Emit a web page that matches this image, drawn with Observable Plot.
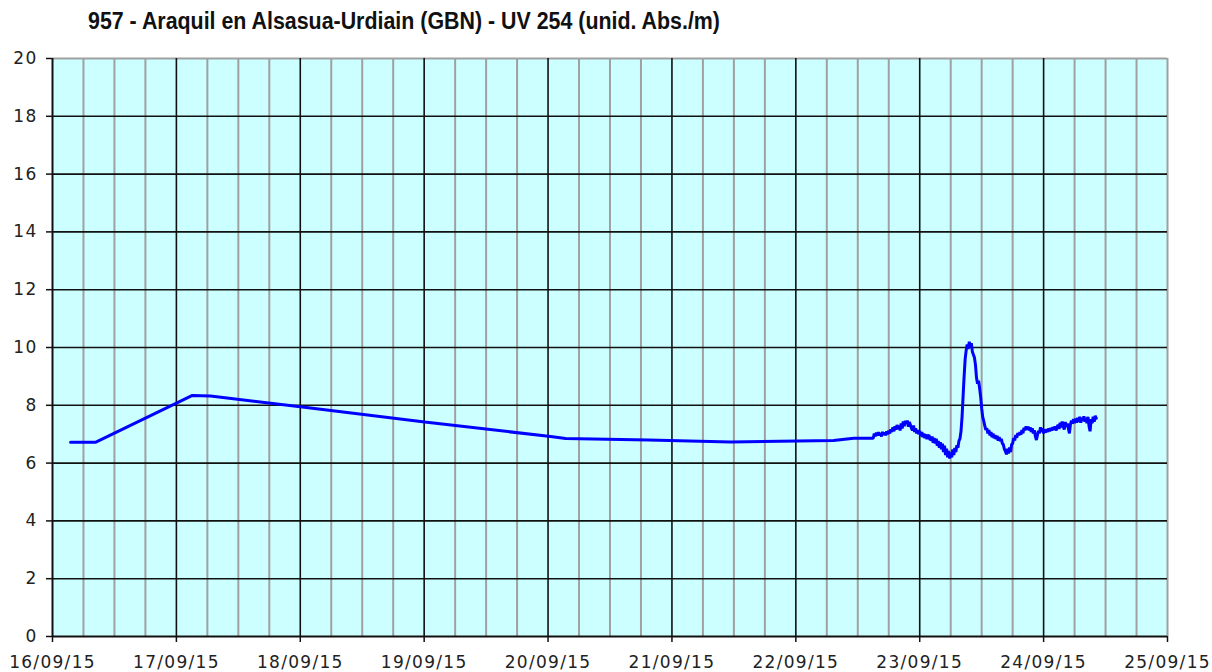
<!DOCTYPE html>
<html><head><meta charset="utf-8">
<script src="https://cdn.jsdelivr.net/npm/d3@7"></script>
<script src="https://cdn.jsdelivr.net/npm/@observablehq/plot@0.6"></script>
<style>
body{margin:0;background:#fff;}
#wrap{position:relative;width:1212px;height:672px;}
#title{position:absolute;left:88px;top:8px;font:bold 23px "Liberation Sans",Arial,sans-serif;color:#111;white-space:nowrap;transform-origin:0 0;z-index:2;}
#wrap svg{position:absolute;left:0;top:0;}
</style></head><body><div id="wrap"><div id="title">957 - Araquil en Alsasua-Urdiain (GBN) - UV 254 (unid. Abs./m)</div></div>
<script>
// hours since 16/09/2015 00:00
const hours = [3.5, 8.3, 27.1, 30.6, 48.0, 72.1, 96.5, 99.4, 115.5, 131.4, 151.3, 155.2, 159.0,
  159.2, 159.4, 159.6, 159.8, 160.0, 160.2, 160.4, 160.6, 160.8, 161.0, 161.2, 161.4, 161.6, 161.8, 162.0, 162.2,
  162.4, 162.6, 162.8, 163.0, 163.2, 163.4, 163.6, 163.8, 164.0, 164.2, 164.4, 164.6, 164.8, 165.0, 165.2, 165.4, 165.6, 165.8, 166.0,
  166.2, 166.4, 166.6, 166.8, 167.0, 167.2, 167.4, 167.6, 167.8, 168.0, 168.2, 168.4, 168.6, 168.8, 169.0, 169.2, 169.4, 169.6, 169.8, 170.0,
  170.2, 170.4, 170.6, 170.8, 171.0, 171.2, 171.4, 171.6, 171.8, 172.0, 172.2, 172.4, 172.6, 172.8, 173.0,
  173.2, 173.4, 173.6, 173.8, 174.0, 174.2, 174.4, 174.6, 174.8, 175.0, 175.2, 175.4, 175.6, 175.8, 176.0,
  176.2, 176.4, 176.6, 176.8, 177.0, 177.2, 177.4, 177.6, 177.8, 178.0, 178.2, 178.4, 178.6, 178.8, 179.0,
  179.2, 179.4, 179.6, 179.8, 180.0, 180.2, 180.4, 180.6, 180.8, 181.0,
  181.2, 181.4, 181.6, 181.8, 182.0, 182.2, 182.4, 182.6, 182.8, 183.0, 183.2, 183.4, 183.6, 183.8, 184.0,
  184.2, 184.4, 184.6, 184.8, 185.0, 185.2, 185.4, 185.6, 185.8, 186.0, 186.2, 186.4, 186.6, 186.8, 187.0,
  187.2, 187.4, 187.6, 187.8, 188.0, 188.2, 188.4, 188.6, 188.8, 189.0, 189.2, 189.4, 189.6, 189.8, 190.0,
  190.2, 190.4, 190.6, 190.8, 191.0, 191.2, 191.4, 191.6, 191.8, 192.0, 192.2, 192.4, 192.6, 192.8, 193.0,
  193.2, 193.4, 193.6, 193.8, 194.0, 194.2, 194.4, 194.6, 194.8, 195.0, 195.2, 195.4, 195.6, 195.8, 196.0,
  196.2, 196.4, 196.6, 196.8, 197.0, 197.2, 197.4, 197.6, 197.8, 198.0, 198.2, 198.4, 198.6, 198.8, 199.0,
  199.2, 199.4, 199.6, 199.8, 200.0, 200.2, 200.4, 200.6, 200.8, 201.0, 201.2, 201.4, 201.6, 201.8, 202.0, 202.2];
const values = [6.72, 6.72, 8.34, 8.32, 7.95, 7.42, 6.92, 6.85, 6.80, 6.73, 6.78, 6.86, 6.86,
  7.02, 6.93, 7.05, 6.95, 7.07, 6.96, 7.04, 6.92, 7.08, 6.98, 7.06, 6.96, 7.10, 7.00, 7.12, 7.03,
  7.17, 7.08, 7.24, 7.10, 7.27, 7.16, 7.32, 7.18, 7.30, 7.13, 7.37, 7.20, 7.44, 7.28, 7.46, 7.36, 7.47, 7.26, 7.42,
  7.32, 7.20, 7.13, 7.30, 7.08, 7.20, 7.03, 7.14, 7.00, 7.12, 6.93, 7.07, 6.90, 7.02, 6.86, 7.00, 6.83, 6.94, 6.97, 6.80,
  6.82, 6.92, 6.70, 6.87, 6.68, 6.84, 6.60, 6.77, 6.53, 6.72, 6.48, 6.67, 6.38, 6.60, 6.28,
  6.50, 6.20, 6.42, 6.16, 6.37, 6.20, 6.47, 6.28, 6.52, 6.38, 6.62, 6.53, 6.77, 6.85, 7.10,
  7.60, 8.30, 9.00, 9.60, 9.90, 10.10, 9.95, 10.20, 10.00, 10.15, 9.85, 9.75, 9.65, 9.40, 8.95,
  8.75, 8.85, 8.60, 8.30, 7.90, 7.60, 7.45, 7.30, 7.15, 7.20,
  7.03, 7.14, 6.96, 7.07, 6.90, 7.02, 6.86, 6.97, 6.83, 6.94, 6.78, 6.90, 6.76, 6.84, 6.68,
  6.64, 6.48, 6.42, 6.30, 6.50, 6.33, 6.54, 6.38, 6.64, 6.68, 6.87, 6.78, 6.97, 6.88, 7.04,
  6.96, 7.07, 6.98, 7.14, 7.03, 7.22, 7.13, 7.27, 7.16, 7.26, 7.13, 7.24, 7.08, 7.20, 7.03,
  7.14, 6.93, 6.80, 6.97, 7.12, 7.03, 7.24, 7.08, 7.20, 7.03, 7.17, 7.06, 7.17, 7.08, 7.20,
  7.10, 7.22, 7.13, 7.24, 7.16, 7.27, 7.13, 7.24, 7.32, 7.18, 7.40, 7.23, 7.44, 7.28, 7.16,
  7.42, 7.26, 7.37, 7.20, 7.03, 7.34, 7.47, 7.36, 7.52, 7.38, 7.54, 7.40, 7.57, 7.43, 7.60,
  7.40, 7.57, 7.46, 7.62, 7.43, 7.57, 7.38, 7.60, 7.28, 7.10, 7.52, 7.38, 7.60, 7.43, 7.64, 7.55];
const dayTicks = ["2015-09-16","2015-09-17","2015-09-18","2015-09-19","2015-09-20",
  "2015-09-21","2015-09-22","2015-09-23","2015-09-24","2015-09-25"];
const yTicks = [0, 2, 4, 6, 8, 10, 12, 14, 16, 18, 20];

const base = Date.UTC(2015, 8, 16);
const data = hours.map((h, i) => ({t: new Date(base + h * 3600e3), v: values[i]}));
const days = dayTicks.map(s => new Date(s + "T00:00:00Z"));
const start = days[0], end = days[days.length - 1];
const minor = d3.utcHour.every(6).range(start, end).filter(d => d.getUTCHours() !== 0);
const innerDays = days.slice(1, -1);

const chart = Plot.plot({
  width: 1212, height: 672,
  marginLeft: 52, marginRight: 45, marginTop: 58, marginBottom: 36,
  style: {fontFamily: "DejaVu Sans, Verdana, sans-serif", fontSize: "17px", color: "#222", background: "transparent", overflow: "visible"},
  x: {type: "utc", domain: [start, end]},
  y: {domain: [0, 20]},
  marks: [
    Plot.frame({fill: "#ccffff", stroke: "none"}),
    Plot.ruleX(minor, {stroke: "#a0a0a0", strokeWidth: 2}),
    Plot.ruleX([end], {stroke: "#a0a0a0", strokeWidth: 2}),
    Plot.ruleY([20], {stroke: "#a0a0a0", strokeWidth: 2}),
    Plot.ruleX(innerDays, {stroke: "#111", strokeWidth: 1.6}),
    Plot.ruleY(yTicks.filter(v => v > 0 && v < 20), {stroke: "#111", strokeWidth: 1.6}),
    Plot.ruleX([start], {stroke: "#111", strokeWidth: 2}),
    Plot.ruleY([0], {stroke: "#111", strokeWidth: 2}),
    Plot.line(data, {x: "t", y: "v", stroke: "#0000ff", strokeWidth: 3, strokeLinejoin: "miter"}),
    Plot.axisX(days, {tickFormat: d3.utcFormat("%d/%m/%y"), tickSize: 6, tickPadding: 13, stroke: "#111", strokeWidth: 1.5, label: null, fontSize: 17, fill: "#222"}),
    Plot.axisY(yTicks, {tickSize: 6, tickPadding: 9, stroke: "#111", strokeWidth: 1.5, label: null, fontSize: 17, fill: "#222"})
  ]
});
chart.querySelectorAll("text").forEach(t => t.style.letterSpacing = "1.3px");
document.getElementById("wrap").prepend(chart);
const title = document.getElementById("title");
const w = title.getBoundingClientRect().width;
title.style.transform = `scaleX(${632 / w})`;
</script>
</body></html>
